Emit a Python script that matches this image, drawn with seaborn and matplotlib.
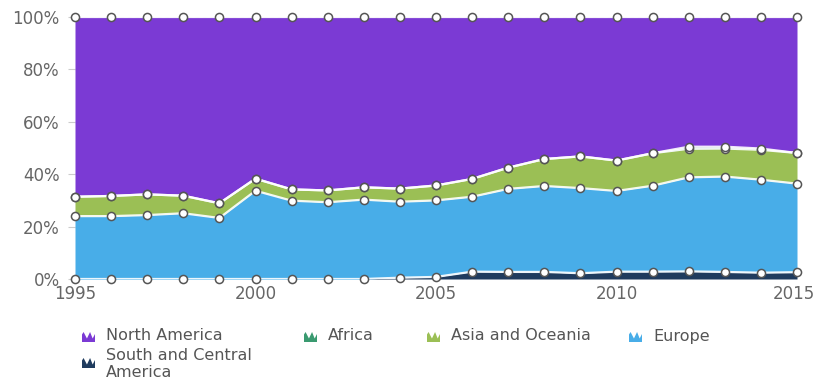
import matplotlib
matplotlib.use("Agg")
import matplotlib.pyplot as plt
import matplotlib.transforms as mtransforms
import numpy as np
import pandas as pd
import seaborn as sns
from matplotlib.patches import Polygon

# Regional shares (%) per year, 1995-2015
years = list(range(1995, 2016))
south_central_america = [0.0, 0.0, 0.0, 0.0, 0.0, 0.0, 0.0, 0.0, 0.0, 0.5, 0.8,
                         2.8, 2.7, 2.7, 2.2, 2.8, 2.8, 2.9, 2.7, 2.4, 2.6]
europe = [24.0, 24.0, 24.4, 25.1, 23.3, 33.7, 29.9, 29.3, 30.3, 29.0, 29.2,
          28.6, 31.7, 32.8, 32.5, 30.8, 32.8, 35.9, 36.4, 35.5, 33.8]
asia_oceania = [7.4, 7.7, 7.9, 6.7, 5.6, 4.6, 4.3, 4.5, 4.7, 5.0, 5.7,
                6.8, 8.1, 10.3, 12.1, 11.6, 12.4, 10.9, 10.7, 11.4, 11.7]
africa = [0.0, 0.0, 0.0, 0.0, 0.0, 0.0, 0.0, 0.0, 0.0, 0.0, 0.0,
          0.0, 0.0, 0.0, 0.0, 0.0, 0.0, 0.8, 0.7, 0.5, 0.0]
north_america = [68.6, 68.3, 67.7, 68.2, 71.1, 61.7, 65.8, 66.2, 65.0, 65.5, 64.3,
                 61.8, 57.5, 54.2, 53.2, 54.8, 52.0, 49.5, 49.5, 50.2, 51.9]

series_names = ["South and Central America", "Europe", "Asia and Oceania",
                "Africa", "North America"]
colors = {
    "North America": "#7b3ad4",
    "Africa": "#3a9a70",
    "Asia and Oceania": "#9bbf55",
    "Europe": "#48ade8",
    "South and Central America": "#1f3b5e",
}
legend_order = ["North America", "Africa", "Asia and Oceania", "Europe",
                "South and Central America"]
x_ticks = [1995, 2000, 2005, 2010, 2015]
y_ticks = [0, 20, 40, 60, 80, 100]
y_tick_labels = ["0%", "20%", "40%", "60%", "80%", "100%"]

df = pd.DataFrame({
    "year": years,
    "South and Central America": south_central_america,
    "Europe": europe,
    "Asia and Oceania": asia_oceania,
    "Africa": africa,
    "North America": north_america,
})
# normalise each year to 100 % and build cumulative boundaries
vals = df[series_names].to_numpy(dtype=float)
vals = vals / vals.sum(axis=1, keepdims=True) * 100
cum = np.cumsum(vals, axis=1)

sns.set_theme(style="white")
plt.rcParams["font.family"] = ["DejaVu Sans"]

W, H = 815, 383
fig = plt.figure(figsize=(W / 100, H / 100), dpi=100)
ax = fig.add_axes([75 / W, 1 - 279 / H, (797 - 75) / W, (279 - 17) / H])

# dashed gridlines behind the areas
for yv in y_ticks:
    ax.axhline(yv, color="#d6d6d6", lw=0.9, ls=(0, (3, 3)), zorder=0)

lower = np.zeros(len(years))
for i, name in enumerate(series_names):
    upper = cum[:, i]
    ax.fill_between(years, lower, upper, color=colors[name], lw=0, zorder=1)
    lower = upper

# white boundary lines with point markers on each layer top
for i, name in enumerate(series_names):
    layer = pd.DataFrame({"year": years, "top": cum[:, i]})
    sns.lineplot(data=layer, x="year", y="top", color="white", lw=1.6,
                 ax=ax, zorder=3, alpha=0.9)
for i, name in enumerate(series_names):
    layer = pd.DataFrame({"year": years, "top": cum[:, i]})
    sns.scatterplot(data=layer, x="year", y="top", s=34, color="white",
                    edgecolor="#555555", linewidth=1.1, ax=ax, zorder=4,
                    clip_on=False)

ax.set_xlim(1995, 2015)
ax.set_ylim(0, 100)
ax.set_xticks(x_ticks)
ax.set_xticklabels([str(t) for t in x_ticks])
ax.set_yticks(y_ticks)
ax.set_yticklabels(y_tick_labels)
ax.set_xlabel("")
ax.set_ylabel("")
for s in ax.spines.values():
    s.set_visible(False)
ax.tick_params(axis="y", which="both", left=True, length=5, width=0.8,
               color="#cccccc", pad=6, labelsize=12, labelcolor="#666666")
ax.tick_params(axis="x", which="both", bottom=False, length=0, pad=4,
               labelsize=12, labelcolor="#666666")
# keep the last year label inside the canvas
last = ax.get_xticklabels()[-1]
last.set_transform(last.get_transform() +
                   mtransforms.ScaledTranslation(-3 / 100, 0, fig.dpi_scale_trans))

# legend with small area-chart icons
icon_shape = np.array([[0, 0], [0, 0.75], [0.12, 1.0], [0.38, 0.35],
                       [0.62, 1.0], [0.82, 0.35], [1, 0.8], [1, 0]])


def add_icon(px, py, color):
    w, h = 13, 10
    xs = (px + icon_shape[:, 0] * w) / W
    ys = 1 - (py + h / 2 - icon_shape[:, 1] * h) / H
    fig.add_artist(Polygon(np.column_stack([xs, ys]), closed=True,
                           transform=fig.transFigure, facecolor=color,
                           edgecolor="none"))


legend_pos = {
    "North America": (82, 337),
    "Africa": (304, 337),
    "Asia and Oceania": (427, 337),
    "Europe": (629, 337),
    "South and Central America": (82, 363),
}
legend_text = {n: n for n in legend_order}
legend_text["South and Central America"] = "South and Central\nAmerica"
for name in legend_order:
    px, py = legend_pos[name]
    add_icon(px, py, colors[name])
    if name == "South and Central America":
        fig.text((px + 24) / W, 1 - 348 / H, legend_text[name],
                 fontsize=11.5, color="#555555", va="top", ha="left",
                 linespacing=1.15)
    else:
        fig.text((px + 24) / W, 1 - 336 / H, legend_text[name],
                 fontsize=11.5, color="#555555", va="center", ha="left")

fig.savefig("out.png", dpi=100)
